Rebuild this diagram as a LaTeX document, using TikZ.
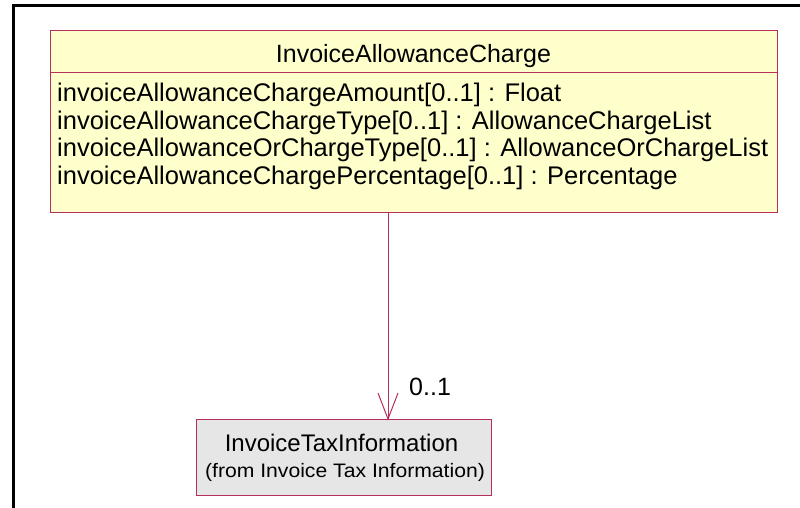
\documentclass[tikz,border=0pt]{standalone}
\usepackage{fontspec}
\setmainfont{Liberation Sans}
\definecolor{umlborder}{HTML}{B4305A}
\definecolor{classfill}{HTML}{FFFFCC}
\definecolor{greyfill}{HTML}{E6E6E6}
\tikzset{
  boxline/.style={draw=umlborder, line width=1pt},
  attr/.style={anchor=base west, inner sep=0pt, font=\fontsize{25.5}{27}\selectfont},
  title/.style={anchor=base, inner sep=0pt, font=\fontsize{25}{27}\selectfont},
  taxtitle/.style={anchor=base, inner sep=0pt, font=\fontsize{24}{26}\selectfont},
  small/.style={anchor=base, inner sep=0pt, font=\fontsize{19.5}{21}\selectfont},
}
\begin{document}
\begin{tikzpicture}[x=1pt,y=-1pt]
\useasboundingbox (0,0) rectangle (800,508);
% frame
\draw[line width=3pt] (13,508) -- (13,6) -- (800,6);
% class box
\draw[boxline, fill=classfill] (50,31) rectangle (777,212);
\draw[boxline] (50,73) -- (777,73);
\node[title] (hdr) at (413.5,63) {InvoiceAllowanceCharge};
\node[attr] (a1) at (57,102) {invoiceAllowanceChargeAmount[0..1] : Float};
\node[attr] (a2) at (57,129.5) {invoiceAllowanceChargeType[0..1] : AllowanceChargeList};
\node[attr] (a3) at (57,157) {invoiceAllowanceOrChargeType[0..1] : AllowanceOrChargeList};
\node[attr] (a4) at (57,184.5) {invoiceAllowanceChargePercentage[0..1] : Percentage};
\coordinate (src) at (388,212);
% tax box
\draw[boxline, fill=greyfill] (196,419) rectangle (491,495);
\coordinate (dst) at (388,419);
\node[taxtitle] (t1) at (341.5,451) {InvoiceTaxInformation};
\node[small] (t2) at (345,477) {\scalebox{1.085}[1]{(from Invoice Tax Information)}};
% connector
\draw[draw=umlborder, line width=1pt] (src) -- (dst);
\draw[draw=umlborder, line width=1pt] (378,393) -- (dst) -- (398,393);
\node[title, anchor=base west] (m) at (409,395) {0..1};
\end{tikzpicture}
\end{document}
